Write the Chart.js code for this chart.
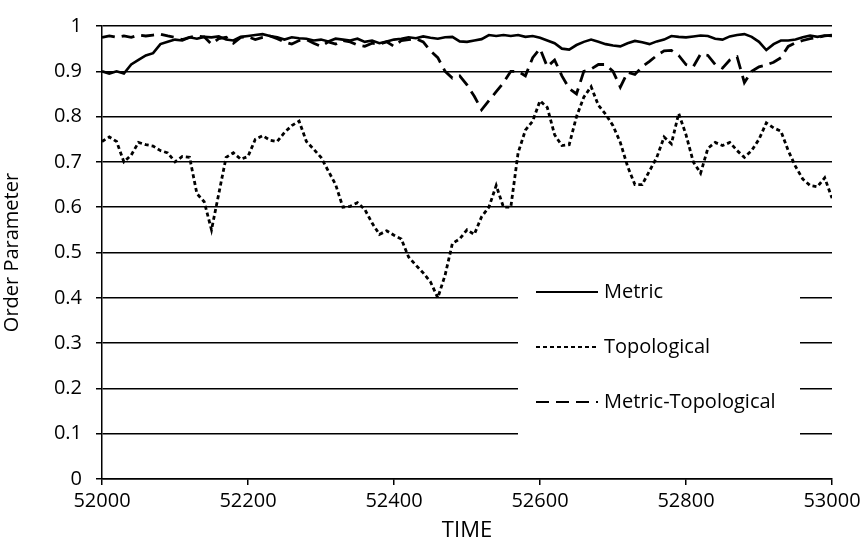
<!DOCTYPE html>
<html>
<head>
<meta charset="utf-8">
<script src="https://cdn.jsdelivr.net/npm/chart.js@4"></script>
<style>
  body { margin: 0; background: #fff; }
  #wrap { width: 866px; height: 546px; }
</style>
</head>
<body>
<div id="wrap"><canvas id="chart" width="866" height="546"></canvas></div>
<script>
const times = [
  52000, 52010, 52020, 52030, 52040, 52050, 52060, 52070, 52080, 52090,
  52100, 52110, 52120, 52130, 52140, 52150, 52160, 52170, 52180, 52190,
  52200, 52210, 52220, 52230, 52240, 52250, 52260, 52270, 52280, 52290,
  52300, 52310, 52320, 52330, 52340, 52350, 52360, 52370, 52380, 52390,
  52400, 52410, 52420, 52430, 52440, 52450, 52460, 52470, 52480, 52490,
  52500, 52510, 52520, 52530, 52540, 52550, 52560, 52570, 52580, 52590,
  52600, 52610, 52620, 52630, 52640, 52650, 52660, 52670, 52680, 52690,
  52700, 52710, 52720, 52730, 52740, 52750, 52760, 52770, 52780, 52790,
  52800, 52810, 52820, 52830, 52840, 52850, 52860, 52870, 52880, 52890,
  52900, 52910, 52920, 52930, 52940, 52950, 52960, 52970, 52980, 52990,
  53000
];

const metric = [
  0.900, 0.895, 0.900, 0.895, 0.915, 0.925, 0.935, 0.940, 0.960, 0.965,
  0.970, 0.968, 0.975, 0.972, 0.976, 0.975, 0.977, 0.970, 0.968, 0.976,
  0.978, 0.980, 0.982, 0.978, 0.975, 0.970, 0.975, 0.973, 0.972, 0.968,
  0.970, 0.966, 0.972, 0.970, 0.968, 0.972, 0.965, 0.968, 0.962, 0.966,
  0.970, 0.972, 0.975, 0.973, 0.977, 0.974, 0.972, 0.975, 0.976, 0.966,
  0.965, 0.968, 0.971, 0.980, 0.978, 0.980, 0.978, 0.980, 0.976, 0.978,
  0.974, 0.968, 0.962, 0.950, 0.948, 0.958, 0.965, 0.970, 0.965, 0.960,
  0.957, 0.955, 0.962, 0.967, 0.964, 0.960, 0.966, 0.970, 0.978, 0.976,
  0.975, 0.977, 0.979, 0.978, 0.972, 0.970, 0.977, 0.980, 0.982, 0.976,
  0.965, 0.947, 0.960, 0.968, 0.968, 0.970, 0.975, 0.979, 0.976, 0.979,
  0.978
];

const topological = [
  0.745, 0.755, 0.745, 0.700, 0.715, 0.743, 0.738, 0.735, 0.725, 0.720,
  0.700, 0.712, 0.710, 0.630, 0.612, 0.550, 0.630, 0.710, 0.720, 0.706,
  0.712, 0.750, 0.758, 0.748, 0.745, 0.765, 0.780, 0.790, 0.745, 0.728,
  0.710, 0.680, 0.650, 0.600, 0.602, 0.610, 0.595, 0.565, 0.540, 0.548,
  0.538, 0.530, 0.490, 0.472, 0.455, 0.435, 0.400, 0.450, 0.520, 0.530,
  0.550, 0.540, 0.579, 0.600, 0.648, 0.600, 0.600, 0.720, 0.770, 0.790,
  0.835, 0.820, 0.760, 0.736, 0.738, 0.800, 0.843, 0.866, 0.825, 0.805,
  0.780, 0.743, 0.690, 0.650, 0.650, 0.680, 0.710, 0.755, 0.740, 0.807,
  0.760, 0.700, 0.675, 0.730, 0.743, 0.736, 0.743, 0.725, 0.710, 0.725,
  0.750, 0.786, 0.775, 0.768, 0.725, 0.690, 0.662, 0.648, 0.645, 0.665,
  0.620
];

const metricTopological = [
  0.975, 0.978, 0.975, 0.978, 0.975, 0.980, 0.978, 0.980, 0.982, 0.978,
  0.975, 0.970, 0.975, 0.978, 0.976, 0.960, 0.972, 0.975, 0.962, 0.975,
  0.976, 0.970, 0.975, 0.978, 0.972, 0.965, 0.960, 0.968, 0.970, 0.962,
  0.955, 0.965, 0.960, 0.968, 0.965, 0.958, 0.955, 0.962, 0.960, 0.965,
  0.955, 0.968, 0.970, 0.972, 0.965, 0.945, 0.930, 0.900, 0.885, 0.890,
  0.870, 0.845, 0.815, 0.835, 0.855, 0.875, 0.900, 0.900, 0.890, 0.930,
  0.950, 0.910, 0.925, 0.890, 0.862, 0.850, 0.900, 0.905, 0.915, 0.915,
  0.900, 0.865, 0.898, 0.893, 0.910, 0.922, 0.935, 0.945, 0.946, 0.935,
  0.915, 0.910, 0.938, 0.935, 0.915, 0.907, 0.925, 0.932, 0.875, 0.900,
  0.910, 0.914, 0.920, 0.930, 0.955, 0.963, 0.968, 0.972, 0.975, 0.978,
  0.980
];

const seriesNames = ['Metric', 'Topological', 'Metric-Topological'];
const xTicks = [52000, 52200, 52400, 52600, 52800, 53000];

const FONT = '"Open Sans", "DejaVu Sans", sans-serif';
const dashes = { solid: [], dotted: [4, 3], dashed: [13, 7] };

function pts(arr) {
  return times.map((t, i) => ({ x: t, y: arr[i] }));
}

// legend drawn inside the plot on a white box that hides the grid lines
const boxLegend = {
  id: 'boxLegend',
  beforeDatasetsDraw(chart) {
    const ctx = chart.ctx;
    ctx.save();
    ctx.fillStyle = '#fff';
    ctx.fillRect(518, 262, 282, 192);
    const items = [
      { name: seriesNames[0], dash: dashes.solid, y: 292 },
      { name: seriesNames[1], dash: dashes.dotted, y: 347 },
      { name: seriesNames[2], dash: dashes.dashed, y: 402 }
    ];
    ctx.strokeStyle = '#000';
    ctx.lineWidth = 2.2;
    ctx.font = '20px ' + FONT;
    ctx.fillStyle = '#000';
    ctx.textBaseline = 'middle';
    items.forEach(it => {
      ctx.setLineDash(it.dash);
      ctx.beginPath();
      ctx.moveTo(536, it.y);
      ctx.lineTo(598, it.y);
      ctx.stroke();
      ctx.setLineDash([]);
      ctx.fillText(it.name, 604, it.y);
    });
    ctx.restore();
  }
};

new Chart(document.getElementById('chart').getContext('2d'), {
  type: 'line',
  data: {
    datasets: [
      { label: seriesNames[1], data: pts(topological), borderDash: dashes.dotted, borderWidth: 2.8 },
      { label: seriesNames[2], data: pts(metricTopological), borderDash: dashes.dashed, borderWidth: 2.8 },
      { label: seriesNames[0], data: pts(metric), borderDash: dashes.solid, borderWidth: 2.6 }
    ].map(d => Object.assign(d, { borderColor: '#000', pointRadius: 0, tension: 0, fill: false }))
  },
  options: {
    responsive: false,
    animation: false,
    layout: { padding: { top: 13, right: 34 } },
    plugins: { legend: { display: false }, tooltip: { enabled: false } },
    scales: {
      x: {
        type: 'linear',
        min: 52000,
        max: 53000,
        afterFit(scale) { scale.height = 67; },
        afterBuildTicks(scale) { scale.ticks = xTicks.map(v => ({ value: v })); },
        ticks: { color: '#000', font: { family: FONT, size: 20 }, padding: 4, maxRotation: 0, callback: v => String(v) },
        grid: { drawOnChartArea: false, drawTicks: true, tickLength: 6, color: '#000', lineWidth: 1.5 },
        border: { color: '#000', width: 1.5 },
        title: { display: true, text: 'TIME', color: '#000', font: { family: FONT, size: 22 }, padding: { top: 0, bottom: 2 } }
      },
      y: {
        min: 0,
        max: 1,
        afterFit(scale) { scale.width = 102; },
        ticks: {
          stepSize: 0.1,
          color: '#000',
          font: { family: FONT, size: 20 },
          padding: 14,
          callback: v => String(Math.round(v * 10) / 10)
        },
        grid: { color: '#000', lineWidth: 1.5, tickLength: 6 },
        border: { color: '#000', width: 1.5 },
        title: { display: true, text: 'Order Parameter', color: '#000', font: { family: FONT, size: 20 }, padding: { top: 0, bottom: 6 } }
      }
    }
  },
  plugins: [boxLegend]
});
</script>
</body>
</html>
